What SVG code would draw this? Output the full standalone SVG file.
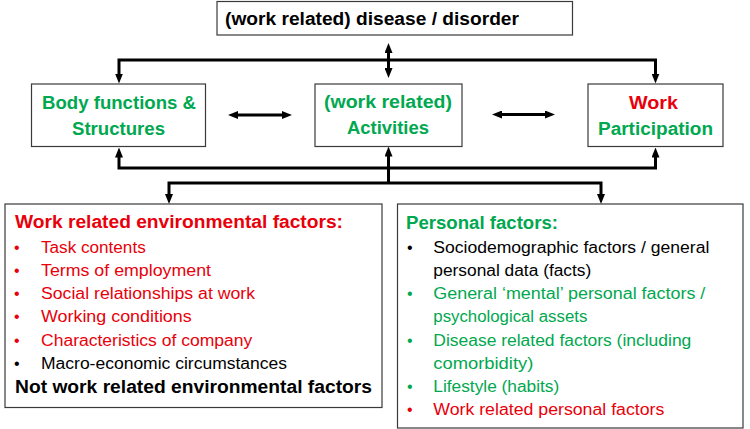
<svg xmlns="http://www.w3.org/2000/svg" width="750" height="429" viewBox="0 0 750 429">
<style>
.box{fill:#fff;stroke:#3a3a3a;stroke-width:1.2}
.b{font-family:"Liberation Sans",Arial,sans-serif;font-weight:bold;font-size:18.7px}
.r{font-family:"Liberation Sans",Arial,sans-serif;font-size:16px}
.k{fill:#000}
.red{fill:#e8000b}
.grn{fill:#00a84f}
.con{fill:none;stroke:#000;stroke-width:3;stroke-linejoin:miter}
</style>
<defs>
<marker id="ah" viewBox="0 0 10 8" refX="3" refY="4" markerWidth="10" markerHeight="8" markerUnits="userSpaceOnUse" orient="auto-start-reverse">
<path d="M0,0 L10,4 L0,8 z" fill="#000"/>
</marker>
</defs>
<rect width="750" height="429" fill="#fff"/>
<g id="connectors">
<path class="con" d="M388.5,50 V71" marker-start="url(#ah)" marker-end="url(#ah)"/>
<path class="con" d="M119,76.5 V60 H655.5 V76.5" marker-start="url(#ah)" marker-end="url(#ah)"/>
<path class="con" d="M235,115 H285" marker-start="url(#ah)" marker-end="url(#ah)"/>
<path class="con" d="M499,114.5 H548" marker-start="url(#ah)" marker-end="url(#ah)"/>
<path class="con" d="M119,154.5 V168 H655.5 V154.5" marker-start="url(#ah)" marker-end="url(#ah)"/>
<path class="con" d="M388.5,183 V153.5" marker-end="url(#ah)"/>
<path class="con" d="M169,197 V183 H601 V197" marker-start="url(#ah)" marker-end="url(#ah)"/>
</g>
<g id="disease">
<rect class="box" x="217" y="1.5" width="355.5" height="33.5"/>
<text class="b k" x="225" y="25" font-size="19" textLength="294" lengthAdjust="spacingAndGlyphs">(work related) disease / disorder</text>
</g>
<g id="body">
<rect class="box" x="31.5" y="84" width="174" height="62.5"/>
<text class="b grn" x="42" y="109" textLength="154" lengthAdjust="spacingAndGlyphs">Body functions &amp;</text>
<text class="b grn" x="72" y="135" textLength="93" lengthAdjust="spacingAndGlyphs">Structures</text>
</g>
<g id="activities">
<rect class="box" x="315" y="84" width="147" height="62.5"/>
<text class="b grn" x="324" y="108" textLength="128" lengthAdjust="spacingAndGlyphs">(work related)</text>
<text class="b grn" x="347" y="134" textLength="82" lengthAdjust="spacingAndGlyphs">Activities</text>
</g>
<g id="participation">
<rect class="box" x="588" y="84" width="135" height="62.5"/>
<text class="b red" x="629" y="109" textLength="49" lengthAdjust="spacingAndGlyphs">Work</text>
<text class="b grn" x="598" y="135" textLength="115" lengthAdjust="spacingAndGlyphs">Participation</text>
</g>
<g id="environmental">
<rect class="box" x="5" y="204" width="377" height="203.5"/>
<text class="b red" x="15" y="228" textLength="328" lengthAdjust="spacingAndGlyphs">Work related environmental factors:</text>
<text class="r red" x="14" y="252.7">•</text><text class="r red" x="41" y="252.7" textLength="104.7" lengthAdjust="spacingAndGlyphs">Task contents</text>
<text class="r red" x="14" y="275.9">•</text><text class="r red" x="41" y="275.9" textLength="170" lengthAdjust="spacingAndGlyphs">Terms of employment</text>
<text class="r red" x="14" y="299.1">•</text><text class="r red" x="41" y="299.1" textLength="214" lengthAdjust="spacingAndGlyphs">Social relationships at work</text>
<text class="r red" x="14" y="322.3">•</text><text class="r red" x="41" y="322.3" textLength="150.7" lengthAdjust="spacingAndGlyphs">Working conditions</text>
<text class="r red" x="14" y="345.5">•</text><text class="r red" x="41" y="345.5" textLength="211.3" lengthAdjust="spacingAndGlyphs">Characteristics of company</text>
<text class="r k" x="14" y="368.5">•</text><text class="r k" x="41" y="368.5" textLength="246" lengthAdjust="spacingAndGlyphs">Macro-economic circumstances</text>
<text class="b k" x="15" y="393" textLength="357" lengthAdjust="spacingAndGlyphs">Not work related environmental factors</text>
</g>
<g id="personal">
<rect class="box" x="397.5" y="204" width="345.5" height="224"/>
<text class="b grn" x="406" y="229" textLength="152" lengthAdjust="spacingAndGlyphs">Personal factors:</text>
<text class="r k" x="407" y="252.7">•</text><text class="r k" x="433.3" y="252.7" textLength="276" lengthAdjust="spacingAndGlyphs">Sociodemographic factors / general</text>
<text class="r k" x="433.3" y="275.9" textLength="158" lengthAdjust="spacingAndGlyphs">personal data (facts)</text>
<text class="r grn" x="407" y="299.1">•</text><text class="r grn" x="433.3" y="299.1" textLength="272" lengthAdjust="spacingAndGlyphs">General ‘mental’ personal factors /</text>
<text class="r grn" x="433.3" y="322" textLength="154" lengthAdjust="spacingAndGlyphs">psychological assets</text>
<text class="r grn" x="407" y="345.5">•</text><text class="r grn" x="433.3" y="345.5" textLength="258" lengthAdjust="spacingAndGlyphs">Disease related factors (including</text>
<text class="r grn" x="433.3" y="368.5" textLength="100" lengthAdjust="spacingAndGlyphs">comorbidity)</text>
<text class="r grn" x="407" y="391.7">•</text><text class="r grn" x="433.3" y="391.7" textLength="126" lengthAdjust="spacingAndGlyphs">Lifestyle (habits)</text>
<text class="r red" x="407" y="414.5">•</text><text class="r red" x="433.3" y="414.5" textLength="231" lengthAdjust="spacingAndGlyphs">Work related personal factors</text>
</g>
</svg>
